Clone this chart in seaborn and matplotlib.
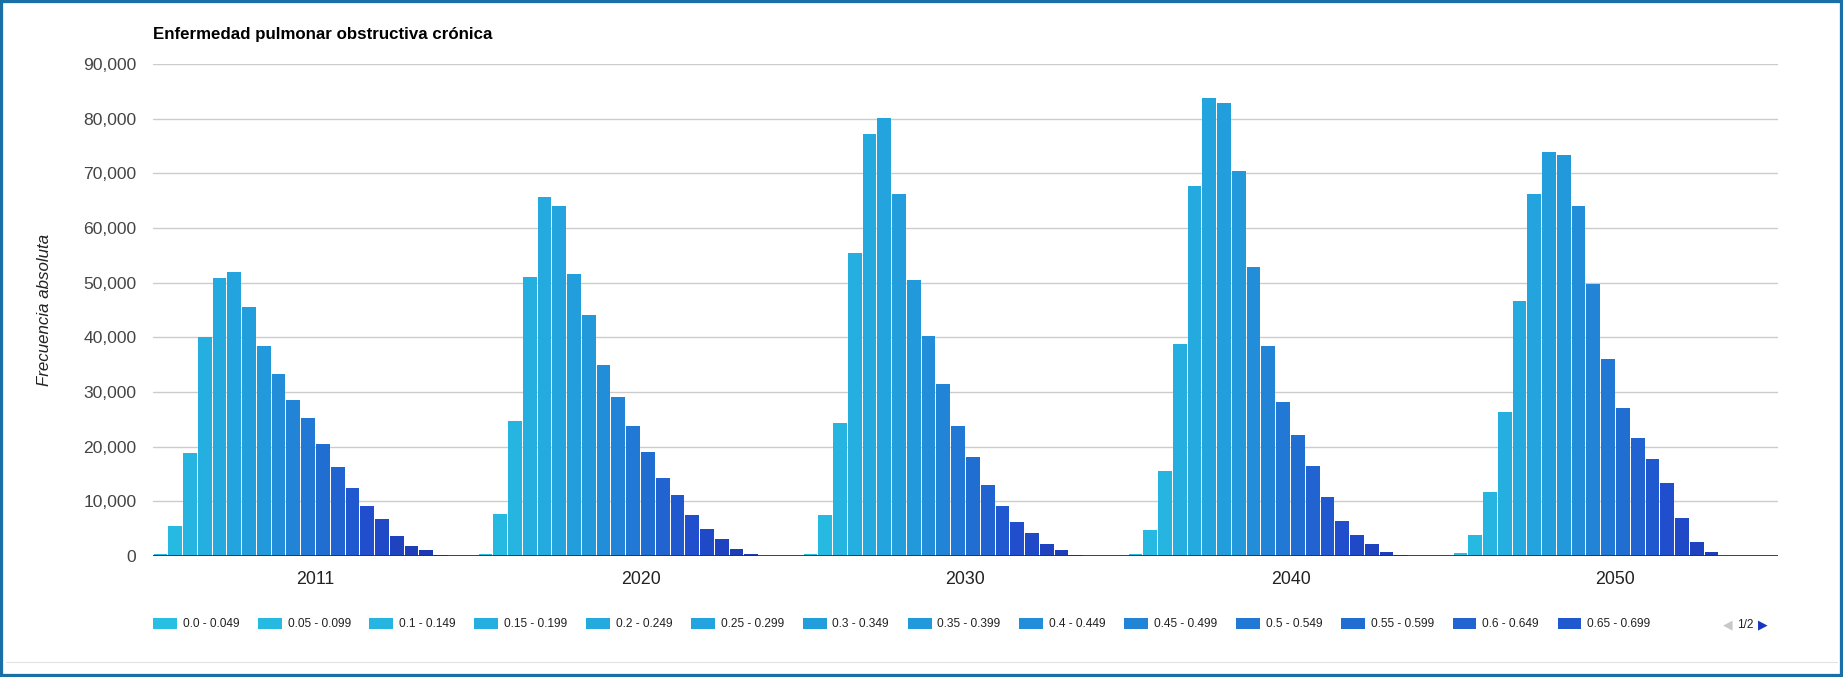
import matplotlib
matplotlib.use("Agg")
import matplotlib.pyplot as plt
from matplotlib.patches import Rectangle
from matplotlib.lines import Line2D
from matplotlib.ticker import FuncFormatter
import pandas as pd
import seaborn as sns

# Chart data
years = ["2011", "2020", "2030", "2040", "2050"]
bins = ["0.0 - 0.049", "0.05 - 0.099", "0.1 - 0.149", "0.15 - 0.199", "0.2 - 0.249",
        "0.25 - 0.299", "0.3 - 0.349", "0.35 - 0.399", "0.4 - 0.449", "0.45 - 0.499",
        "0.5 - 0.549", "0.55 - 0.599", "0.6 - 0.649", "0.65 - 0.699", "0.7 - 0.749",
        "0.75 - 0.799", "0.8 - 0.849", "0.85 - 0.899", "0.9 - 0.949", "0.95 - 0.999",
        "1.0 - 1.049", "1.05 - 1.099"]
freq_2011 = [400, 5500, 18800, 40000, 50900, 51900, 45500, 38500, 33300, 28600, 25200,
             20500, 16300, 12400, 9150, 6800, 3700, 1900, 1150, 250, 0, 0]
freq_2020 = [400, 7700, 24700, 51100, 65600, 64100, 51600, 44000, 34900, 29100, 23800,
             19100, 14200, 11100, 7500, 4900, 3100, 1350, 300, 0, 0, 0]
freq_2030 = [400, 7500, 24400, 55400, 77200, 80100, 66300, 50500, 40200, 31400, 23800,
             18200, 12900, 9100, 6200, 4200, 2200, 1150, 250, 0, 0, 0]
freq_2040 = [300, 4700, 15600, 38700, 67600, 83700, 82900, 70500, 52900, 38400, 28200,
             22200, 16500, 10800, 6400, 3800, 2200, 800, 200, 0, 0, 0]
freq_2050 = [600, 3900, 11700, 26400, 46600, 66300, 73900, 73400, 64000, 49800, 36000,
             27100, 21600, 17800, 13300, 6900, 2550, 800, 0, 0, 0, 0]

title = "Enfermedad pulmonar obstructiva crónica"
y_label = "Frecuencia absoluta"
y_ticks = [0, 10000, 20000, 30000, 40000, 50000, 60000, 70000, 80000, 90000]
n_legend_page = 14

# long table for seaborn
series = [freq_2011, freq_2020, freq_2030, freq_2040, freq_2050]
rows = []
for year, vals in zip(years, series):
    for b, v in zip(bins, vals):
        rows.append({"year": year, "bin": b, "value": v})
df = pd.DataFrame(rows)

sns.set_theme(style="white")
plt.rcParams["font.family"] = ["Liberation Sans", "DejaVu Sans"]

W, H = 1843, 677
fig = plt.figure(figsize=(W / 100, H / 100), dpi=100)
ax = fig.add_axes([153 / W, 1 - 556 / H, (1778 - 153) / W, (556 - 64) / H])

palette = sns.blend_palette(["#27bfe4", "#2299db", "#204ecd", "#1b2a9c"], len(bins))

sns.barplot(data=df, x="year", y="value", hue="bin", order=years, hue_order=bins,
            palette=palette, width=1.0, gap=0.07, dodge=True, saturation=1,
            linewidth=0, legend=False, ax=ax)

ax.set_xlim(-0.5, len(years) - 0.5)
ax.set_ylim(0, 90000)
ax.set_yticks(y_ticks)
ax.yaxis.set_major_formatter(FuncFormatter(lambda v, p: f"{int(v):,}"))
ax.grid(axis="y", color="#cccccc", linewidth=1)
ax.set_axisbelow(True)
ax.axhline(0, color="#333333", linewidth=1.3, zorder=5)
for s in ax.spines.values():
    s.set_visible(False)
ax.tick_params(axis="y", length=0, pad=12, labelsize=12.6, labelcolor="#444444")
ax.tick_params(axis="x", length=0, pad=11, labelsize=12.8, labelcolor="#222222")
ax.set_xlabel("")
ax.set_ylabel("")

fig.text(153 / W, 1 - 34 / H, title, fontsize=12.2, fontweight="bold",
         color="#000000", ha="left", va="center")
fig.text(45 / W, 1 - 310 / H, y_label, fontsize=12.2, style="italic",
         color="#222222", rotation=90, ha="center", va="center")

# legend (first page only, like the reference)
handles = [Rectangle((0, 0), 1, 1, facecolor=palette[i], edgecolor="none")
           for i in range(n_legend_page)]
fig.legend(handles, bins[:n_legend_page], ncol=n_legend_page, loc="center left",
           bbox_to_anchor=(142 / W, 1 - 624 / H), frameon=False, fontsize=8.6,
           handlelength=2.0, handleheight=1.1, handletextpad=0.5,
           columnspacing=1.55, labelcolor="#222222")

# pager
fig.text(1728 / W, 1 - 625 / H, "◀", fontsize=9, color="#c8c8c8",
         ha="center", va="center", family="DejaVu Sans")
fig.text(1745 / W, 1 - 625 / H, "1/2", fontsize=8.6, color="#222222",
         ha="center", va="center")
fig.text(1763 / W, 1 - 625 / H, "▶", fontsize=9, color="#1a35c0",
         ha="center", va="center", family="DejaVu Sans")

# outer frame
fig.add_artist(Line2D([6 / W, 1 - 6 / W], [1 - 662 / H, 1 - 662 / H],
                      transform=fig.transFigure, color="#e2e2e2", linewidth=0.8))
fig.add_artist(Rectangle((0, 0), 1, 1, transform=fig.transFigure, fill=False,
                         edgecolor="#1a6fa6", linewidth=4.5))

fig.savefig("out.png", dpi=100)
